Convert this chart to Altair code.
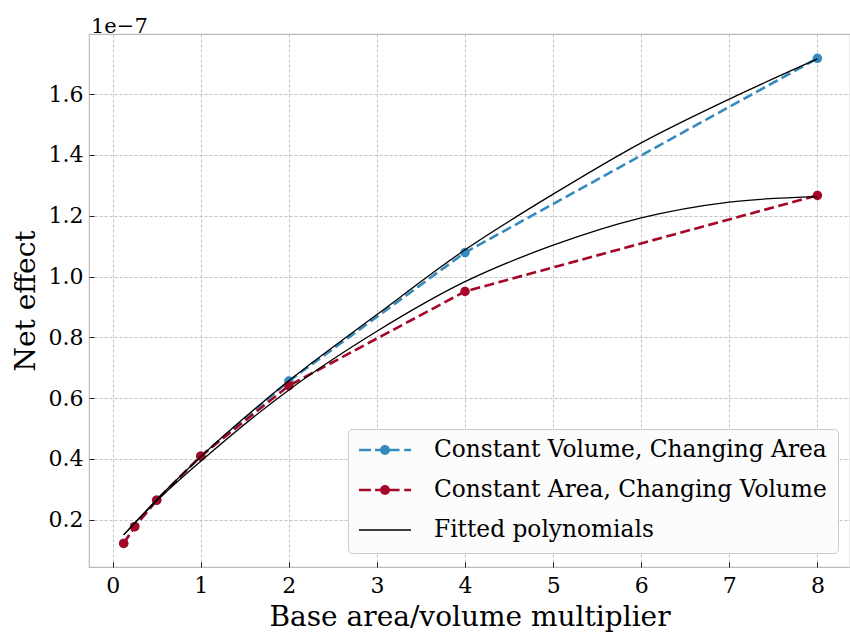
import altair as alt
import pandas as pd

# ---- data (values in units of 1e-7) ----
x_vals = [0.125, 0.25, 0.5, 1, 2, 4, 8]
cv_vals = [0.122, 0.177, 0.264, 0.409, 0.656, 1.079, 1.718]   # Constant Volume, Changing Area
ca_vals = [0.122, 0.177, 0.264, 0.409, 0.641, 0.951, 1.267]   # Constant Area, Changing Volume

fit_x = [0.125, 0.5, 1, 2, 3, 4, 5, 6, 7, 8]
fit_cv = [0.150, 0.266, 0.407, 0.657, 0.875, 1.088, 1.271, 1.440, 1.584, 1.716]
fit_ca = [0.150, 0.262, 0.392, 0.627, 0.820, 0.983, 1.103, 1.193, 1.245, 1.263]

names = ["Constant Volume, Changing Area", "Constant Area, Changing Volume", "Fitted polynomials"]
colors = ["#348ABD", "#A60628", "#000000"]
x_ticks = [0, 1, 2, 3, 4, 5, 6, 7, 8]
y_ticks = [0.2, 0.4, 0.6, 0.8, 1.0, 1.2, 1.4, 1.6]
EXP = 1e-7

FONT = "DejaVu Serif"

pts_cv = pd.DataFrame({"x": x_vals, "y": [v * EXP for v in cv_vals]})
pts_ca = pd.DataFrame({"x": x_vals, "y": [v * EXP for v in ca_vals]})
fits = pd.DataFrame({
    "x": fit_x + fit_x,
    "y": [v * EXP for v in fit_cv] + [v * EXP for v in fit_ca],
    "s": ["cv"] * len(fit_x) + ["ca"] * len(fit_x),
})
leg = pd.DataFrame({"name": names})

x_scale = alt.Scale(domain=[-0.26875, 8.37], nice=False, zero=False)
y_scale = alt.Scale(domain=[0.0443 * EXP, 1.798 * EXP], nice=False, zero=False)

x_axis = alt.Axis(values=x_ticks, title="Base area/volume multiplier", offset=-5,
                  tickSize=5, labelPadding=8, titlePadding=7, format="d")
y_axis = alt.Axis(values=[v * EXP for v in y_ticks], title="Net effect", offset=-5,
                  tickSize=5, labelPadding=6, titlePadding=8,
                  labelExpr="format(datum.value * 1e7, '.1f')")

X = alt.X("x:Q", scale=x_scale, axis=x_axis)
Y = alt.Y("y:Q", scale=y_scale, axis=y_axis)

DASH = [10, 4.5]
LW = 2.6
PSIZE = 90

cv_line = alt.Chart(pts_cv).mark_line(color=colors[0], strokeDash=DASH, strokeWidth=LW).encode(x=X, y=Y, order="x:Q")
cv_pts = alt.Chart(pts_cv).mark_circle(color=colors[0], size=PSIZE, opacity=1).encode(x=X, y=Y)
ca_line = alt.Chart(pts_ca).mark_line(color=colors[1], strokeDash=DASH, strokeWidth=LW).encode(x=X, y=Y, order="x:Q")
ca_pts = alt.Chart(pts_ca).mark_circle(color=colors[1], size=PSIZE, opacity=1).encode(x=X, y=Y)
fit_lines = alt.Chart(fits).mark_line(color="black", strokeWidth=1.3, interpolate="monotone").encode(
    x=X, y=Y, detail="s:N", order="x:Q")

# legend symbols as custom paths (dashed line + dot, thin solid line); all clockwise
dash_dot = ("M-1,-0.05H-0.54V0.05H-1Z M-0.38,-0.05H-0.1V0.05H-0.38Z "
            "M0.1,-0.05H0.56V0.05H0.1Z M0.74,-0.05H1V0.05H0.74Z "
            "M-0.19,0A0.19,0.19,0,1,1,0.19,0A0.19,0.19,0,1,1,-0.19,0Z")
solid = "M-1,-0.026H1V0.026H-1Z"

legend = alt.Legend(title=None, orient="none", legendX=259, legendY=395,
                    fillColor="#fcfcfc", strokeColor="#cccccc", cornerRadius=4,
                    padding=11, symbolSize=2704, symbolStrokeWidth=0, symbolOffset=0,
                    labelOffset=23, labelFont=FONT, labelFontSize=23.3, labelColor="black",
                    labelLimit=0, clipHeight=20, rowPadding=16, symbolOpacity=1)

legend_layer = alt.Chart(leg).mark_point(filled=True, opacity=0).encode(
    fill=alt.Fill("name:N", scale=alt.Scale(domain=names, range=colors), legend=legend),
    shape=alt.Shape("name:N", scale=alt.Scale(domain=names, range=[dash_dot, dash_dot, solid]), legend=legend),
)

chart = alt.layer(cv_line, cv_pts, ca_line, ca_pts, fit_lines, legend_layer).properties(
    width=761, height=533,
    autosize="none",
    padding={"left": 89, "top": 34, "right": 0, "bottom": 69},
    background="white",
    title=alt.TitleParams("1e\u22127", anchor="start", frame="group", offset=4, dx=2, dy=24,
                          baseline="alphabetic", font=FONT, fontSize=21, fontWeight="normal",
                          color="black"),
).configure_view(
    fill="#eeeeee", stroke="#bcbcbc", strokeWidth=1.2
).configure_axis(
    domain=False, grid=True, gridColor="#b2b2b2", gridDash=[3, 2], gridWidth=0.8,
    tickColor="#222222", tickWidth=1,
    labelFont=FONT, labelFontSize=22, labelColor="black",
    titleFont=FONT, titleFontSize=28, titleFontWeight="normal", titleColor="black",
)

chart.save("out.html", embed_options={"renderer": "svg", "actions": False})
